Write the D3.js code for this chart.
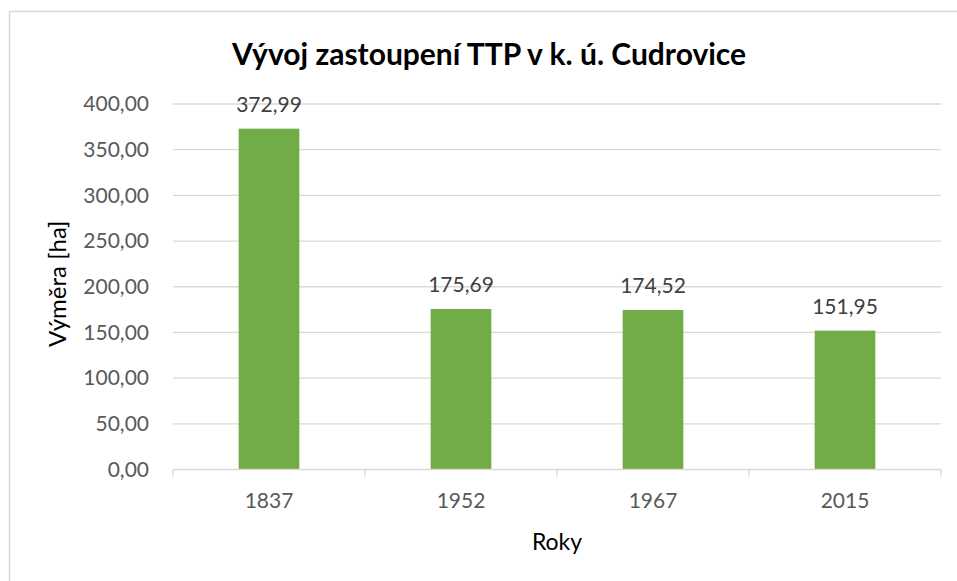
<!DOCTYPE html>
<html>
<head>
<meta charset="utf-8">
<script src="https://cdn.jsdelivr.net/npm/d3@7"></script>
<style>
  body { margin: 0; background: #fff; }
  svg { font-family: Lato, "Open Sans", sans-serif; }
</style>
</head>
<body>
<div id="chart"></div>
<script>
// data
const years = ['1837', '1952', '1967', '2015'];
const areas = [372.99, 175.69, 174.52, 151.95];
const yTicks = [0, 50, 100, 150, 200, 250, 300, 350, 400];

const width = 957, height = 581;
const margin = { top: 104, right: 16, bottom: 112, left: 173 };

const fmt = v => d3.format('.2f')(v).replace('.', ',');

const svg = d3.select('#chart').append('svg')
    .attr('width', width)
    .attr('height', height);

// chart border (right and bottom edges fall outside the picture)
svg.append('rect')
    .attr('x', 9.5).attr('y', 11.5)
    .attr('width', 960).attr('height', 600)
    .attr('fill', 'none')
    .attr('stroke', '#d9d9d9')
    .attr('stroke-width', 1.5);

const x = d3.scaleBand()
    .domain(years)
    .range([margin.left, width - margin.right])
    .paddingInner(0.684)
    .paddingOuter(0.342);

const y = d3.scaleLinear()
    .domain([0, 400])
    .range([469.5, margin.top]);

// gridlines
svg.append('g')
    .selectAll('line')
    .data(yTicks.filter(d => d > 0))
    .enter().append('line')
    .attr('x1', margin.left)
    .attr('x2', width - margin.right)
    .attr('y1', d => y(d))
    .attr('y2', d => y(d))
    .attr('stroke', '#d9d9d9')
    .attr('stroke-width', 1.3);

// Y axis labels
const yAxis = svg.append('g')
    .attr('transform', 'translate(' + margin.left + ',0)')
    .call(d3.axisLeft(y).tickValues(yTicks).tickFormat(fmt).tickSize(0).tickPadding(24));
yAxis.select('.domain').remove();
yAxis.selectAll('text')
    .attr('fill', '#595959')
    .style('font-size', '21px')
    .style('font-family', 'Lato, sans-serif');

// bars
svg.append('g')
    .selectAll('rect')
    .data(areas)
    .enter().append('rect')
    .attr('x', (d, i) => x(years[i]))
    .attr('y', d => y(d))
    .attr('width', x.bandwidth())
    .attr('height', d => y(0) - y(d))
    .attr('fill', '#70ad47');

// data labels
svg.append('g')
    .selectAll('text')
    .data(areas)
    .enter().append('text')
    .text(d => fmt(d))
    .attr('x', (d, i) => x(years[i]) + x.bandwidth() / 2)
    .attr('y', d => y(d) - 17)
    .attr('text-anchor', 'middle')
    .attr('fill', '#404040')
    .style('font-size', '21px');

// X axis with ticks at category boundaries
const step = x.step();
const edges = d3.range(years.length + 1).map(i => margin.left + i * step);
const xg = svg.append('g');
xg.append('line')
    .attr('x1', margin.left).attr('x2', width - margin.right)
    .attr('y1', y(0)).attr('y2', y(0))
    .attr('stroke', '#d9d9d9').attr('stroke-width', 1.3);
xg.selectAll('.tick')
    .data(edges)
    .enter().append('line')
    .attr('x1', d => d).attr('x2', d => d)
    .attr('y1', y(0)).attr('y2', y(0) + 7)
    .attr('stroke', '#d9d9d9').attr('stroke-width', 1.3);
xg.selectAll('text')
    .data(years)
    .enter().append('text')
    .text(d => d)
    .attr('x', d => x(d) + x.bandwidth() / 2)
    .attr('y', 508)
    .attr('text-anchor', 'middle')
    .attr('fill', '#595959')
    .style('font-size', '21px');

// title
svg.append('text')
    .text('Vývoj zastoupení TTP v k. ú. Cudrovice')
    .attr('x', 489)
    .attr('y', 65)
    .attr('text-anchor', 'middle')
    .attr('fill', '#000')
    .style('font-size', '30px')
    .style('font-weight', 'bold');

// axis titles
svg.append('text')
    .text('Roky')
    .attr('x', (margin.left + width - margin.right) / 2)
    .attr('y', 550)
    .attr('text-anchor', 'middle')
    .attr('fill', '#000')
    .style('font-size', '23px');

svg.append('text')
    .text('Výměra [ha]')
    .attr('transform', 'translate(66,' + (y(200) - 3) + ') rotate(-90)')
    .attr('text-anchor', 'middle')
    .attr('fill', '#000')
    .style('font-size', '24px');
</script>
</body>
</html>
